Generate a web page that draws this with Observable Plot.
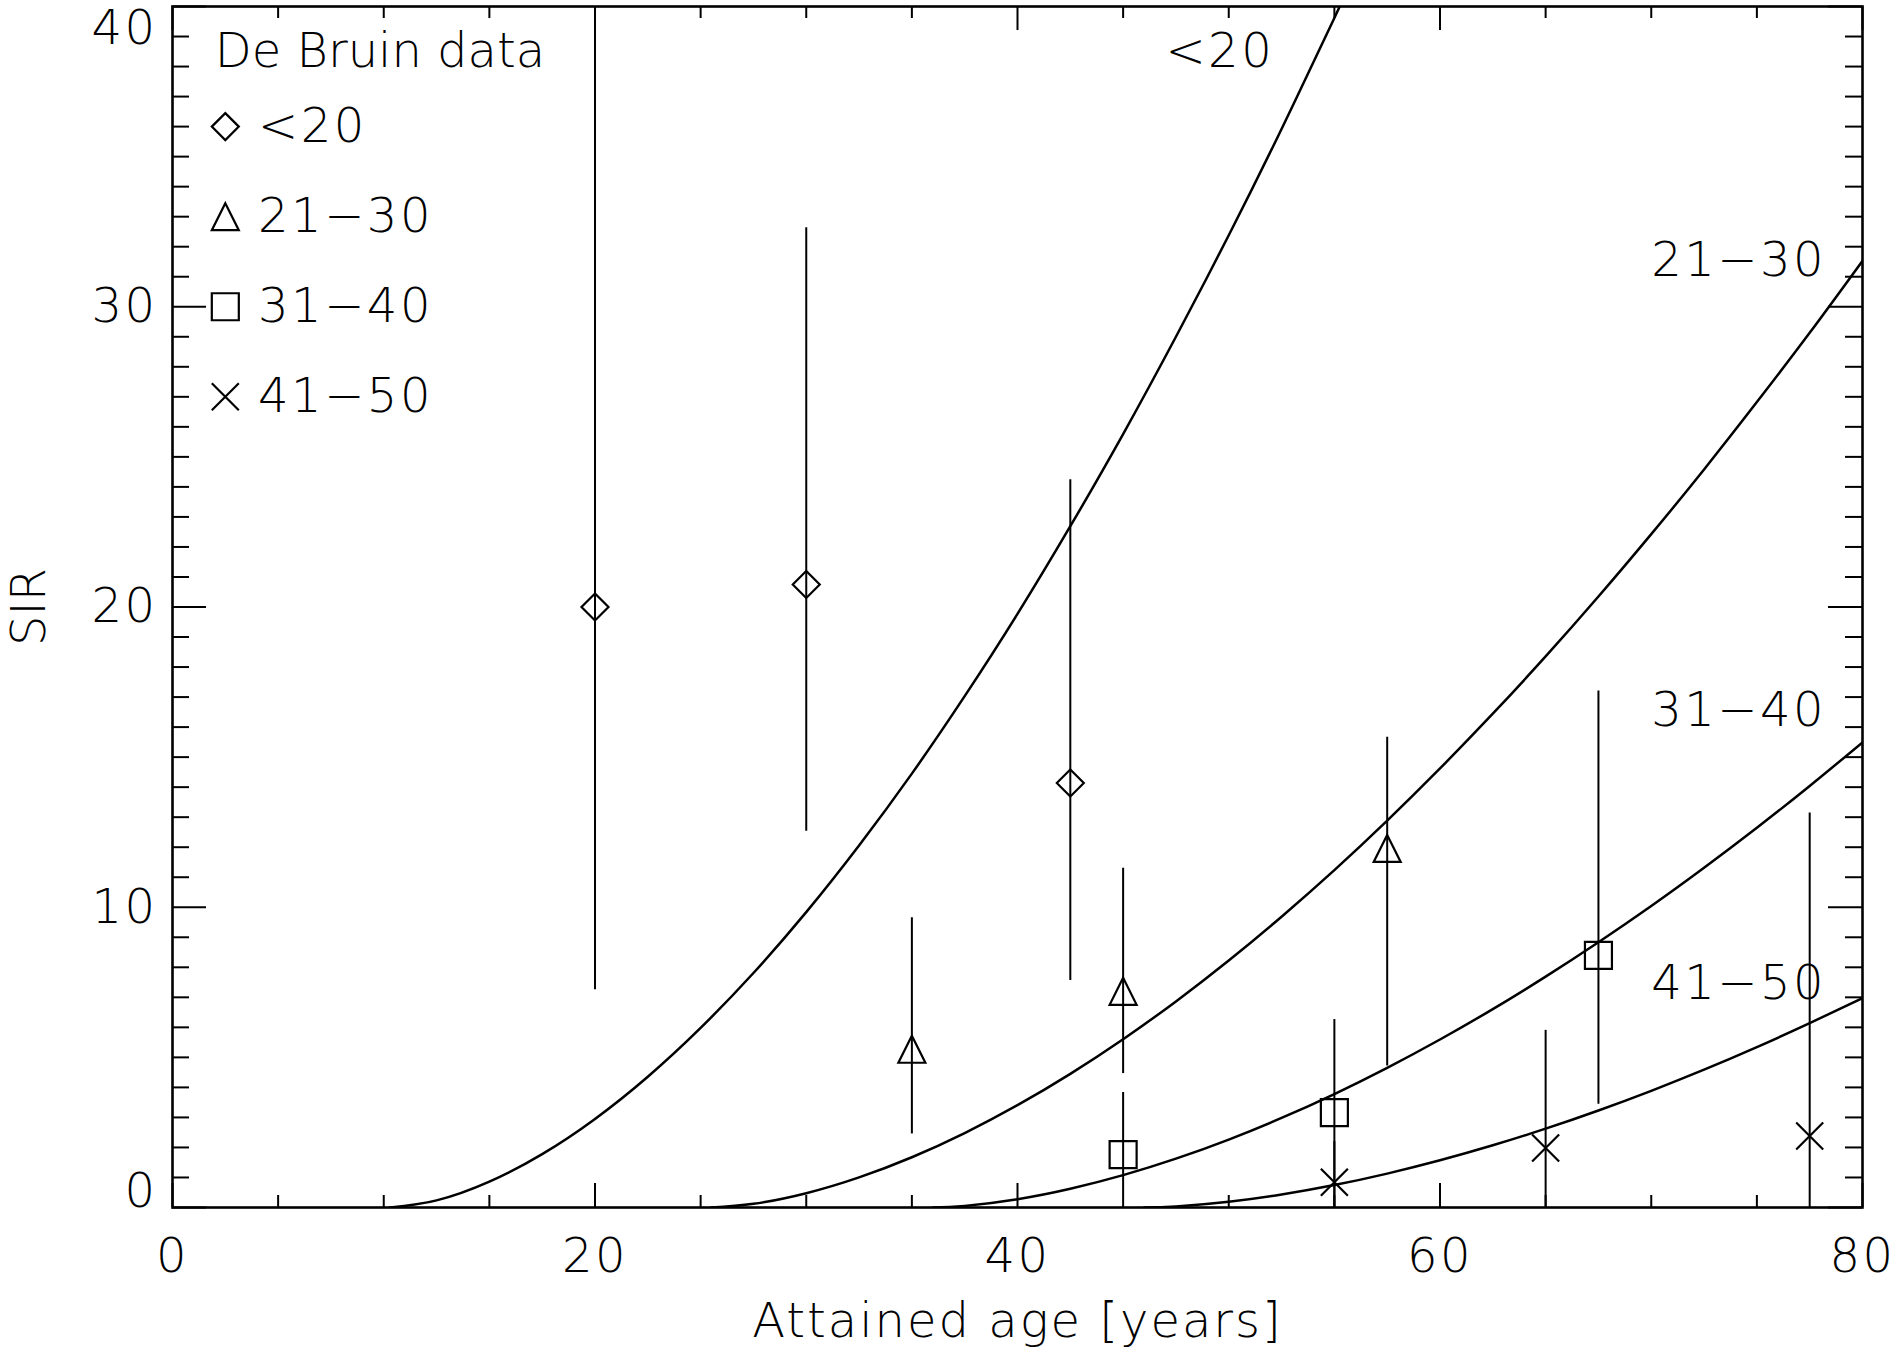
<!DOCTYPE html>
<html>
<head>
<meta charset="utf-8">
<script src="https://cdn.jsdelivr.net/npm/d3@7"></script>
<script src="https://cdn.jsdelivr.net/npm/@observablehq/plot@0.6"></script>
<style>
  html, body { margin: 0; padding: 0; background: #fff; }
  #chart svg { display: block; }
</style>
</head>
<body>
<div id="chart"></div>
<script>
// ---------------- data ----------------
const groups = ["<20", "21−30", "31−40", "41−50"];

// model curves
const curveAge_lt20 = [10.3, 12.5, 15, 17.5, 20, 22.5, 25, 27.5, 30, 32.5, 35, 37.5, 40, 42.5, 45, 47.5, 50, 52.5, 55, 56];
const curveSIR_lt20 = [0, 0.237, 0.861, 1.778, 2.951, 4.357, 5.982, 7.811, 9.838, 12.057, 14.45, 17.03, 19.77, 22.69, 25.76, 29.00, 32.38, 35.92, 39.62, 41.14];

const curveAge_21_30 = [25.5, 27.5, 30, 32.5, 35, 37.5, 40, 42.5, 45, 47.5, 50, 52.5, 55, 57.5, 60, 62.5, 65, 67.5, 70, 72.5, 75, 77.5, 80];
const curveSIR_21_30 = [0, 0.122, 0.477, 1.003, 1.674, 2.479, 3.407, 4.452, 5.605, 6.864, 8.226, 9.686, 11.236, 12.884, 14.623, 16.446, 18.353, 20.348, 22.426, 24.581, 26.824, 29.131, 31.527];

const curveAge_31_40 = [36, 37.5, 40, 42.5, 45, 47.5, 50, 52.5, 55, 57.5, 60, 62.5, 65, 67.5, 70, 72.5, 75, 77.5, 80];
const curveSIR_31_40 = [0, 0.053, 0.276, 0.623, 1.077, 1.626, 2.263, 2.982, 3.779, 4.652, 5.595, 6.608, 7.690, 8.837, 10.043, 11.316, 12.648, 14.040, 15.490];

const curveAge_41_50 = [46, 47.5, 50, 52.5, 55, 57.5, 60, 62.5, 65, 67.5, 70, 72.5, 75, 77.5, 80];
const curveSIR_41_50 = [0, 0.037, 0.192, 0.433, 0.748, 1.129, 1.572, 2.071, 2.625, 3.232, 3.887, 4.590, 5.342, 6.139, 6.977];

// De Bruin data points with error bars
const ptAge_lt20 = [20, 30, 42.5];
const ptSIR_lt20 = [20.0, 20.75, 14.14];
const ptLo_lt20  = [7.25, 12.53, 7.56];
const ptHi_lt20  = [41, 32.63, 24.24];

const ptAge_21_30 = [35, 45, 57.5];
const ptSIR_21_30 = [5.27, 7.2, 11.96];
const ptLo_21_30  = [2.45, 4.46, 4.71];
const ptHi_21_30  = [9.65, 11.3, 15.66];

const ptAge_31_40 = [45, 55, 67.5];
const ptSIR_31_40 = [1.76, 3.16, 8.4];
const ptLo_31_40  = [0.4, 0, 3.44];
const ptHi_31_40  = [3.83, 6.26, 17.2];

const ptAge_41_50 = [55, 65, 77.5];
const ptSIR_41_50 = [0.84, 1.98, 2.38];
const ptLo_41_50  = [0, 0, 0];
const ptHi_41_50  = [2.2, 5.9, 13.14];

const xTickLabels = [0, 20, 40, 60, 80];
const yTickLabels = [0, 10, 20, 30, 40];

const legendTitle = "De Bruin data";
const xLabel = "Attained age [years]";
const yLabel = "SIR";

// ---------------- build rows ----------------
const curveSets = [
  [curveAge_lt20, curveSIR_lt20],
  [curveAge_21_30, curveSIR_21_30],
  [curveAge_31_40, curveSIR_31_40],
  [curveAge_41_50, curveSIR_41_50]
];
const curveRows = curveSets.flatMap(([a, s], gi) => a.map((age, i) => ({group: groups[gi], age, sir: s[i]})));

const pointSets = [
  [ptAge_lt20, ptSIR_lt20, ptLo_lt20, ptHi_lt20],
  [ptAge_21_30, ptSIR_21_30, ptLo_21_30, ptHi_21_30],
  [ptAge_31_40, ptSIR_31_40, ptLo_31_40, ptHi_31_40],
  [ptAge_41_50, ptSIR_41_50, ptLo_41_50, ptHi_41_50]
];
const pointRows = pointSets.flatMap(([a, s, lo, hi], gi) => a.map((age, i) => ({group: groups[gi], gi, age, sir: s[i], lo: lo[i], hi: hi[i]})));

// ---------------- custom IDL-like symbols ----------------
const hOf = size => Math.sqrt(size / Math.PI);
const symDiamond = {draw(c, size) { const h = hOf(size); c.moveTo(0, -h); c.lineTo(h, 0); c.lineTo(0, h); c.lineTo(-h, 0); c.closePath(); }};
const symTriangle = {draw(c, size) { const h = hOf(size); c.moveTo(0, -h); c.lineTo(h, h); c.lineTo(-h, h); c.closePath(); }};
const symSquare = {draw(c, size) { const h = hOf(size); c.moveTo(-h, -h); c.lineTo(h, -h); c.lineTo(h, h); c.lineTo(-h, h); c.closePath(); }};
const symTimes = {draw(c, size) { const h = hOf(size); c.moveTo(-h, -h); c.lineTo(h, h); c.moveTo(h, -h); c.lineTo(-h, h); }};
const groupSymbols = [symDiamond, symTriangle, symSquare, symTimes];

// ---------------- layout ----------------
const W = 1896, H = 1352;
const mL = 172, mR = 34, mT = 6, mB = 145;
const pw = W - mL - mR, ph = H - mT - mB;
const FONT = "'DejaVu Sans', sans-serif";
const FS = 48;

const xMajor = d3.range(0, 81, 20), xMinor = d3.range(0, 81, 5).filter(v => v % 20);
const yMajor = d3.range(0, 41, 10), yMinor = d3.range(0, 41, 1).filter(v => v % 10);

const ink = "#000";
const lw = 2.5;

// legend layout (in data space of the panel)
const legendRows = groups.map((g, i) => ({g, i}));
const legendTop = 36, legendStep = 3, legendSymX = 2.5, legendTextX = 4.05;

const ylx = -15;

const marks = [
  // ticks (inward, mirrored on all four sides)
  Plot.ruleX(xMajor, {x: d => d, insetTop: ph - 24, stroke: ink, strokeWidth: 2}),
  Plot.ruleX(xMajor, {x: d => d, insetBottom: ph - 24, stroke: ink, strokeWidth: 2}),
  Plot.ruleX(xMinor, {x: d => d, insetTop: ph - 12, stroke: ink, strokeWidth: 2}),
  Plot.ruleX(xMinor, {x: d => d, insetBottom: ph - 12, stroke: ink, strokeWidth: 2}),
  Plot.ruleY(yMajor, {y: d => d, insetRight: pw - 34, stroke: ink, strokeWidth: 2}),
  Plot.ruleY(yMajor, {y: d => d, insetLeft: pw - 34, stroke: ink, strokeWidth: 2}),
  Plot.ruleY(yMinor, {y: d => d, insetRight: pw - 17, stroke: ink, strokeWidth: 2}),
  Plot.ruleY(yMinor, {y: d => d, insetLeft: pw - 17, stroke: ink, strokeWidth: 2}),

  // tick labels
  Plot.text(xTickLabels, {x: d => d, frameAnchor: "bottom", dy: 49, text: d => String(d), textAnchor: "middle", lineAnchor: "middle", fontSize: FS}),
  Plot.text(yTickLabels.filter(v => v > 0 && v < 40), {y: d => d, frameAnchor: "left", dx: ylx, text: d => String(d), textAnchor: "end", lineAnchor: "middle", fontSize: FS}),
  Plot.text(yTickLabels.filter(v => v === 0), {y: d => d, frameAnchor: "left", dx: ylx, dy: -16, text: d => String(d), textAnchor: "end", lineAnchor: "middle", fontSize: FS}),
  Plot.text(yTickLabels.filter(v => v === 40), {y: d => d, frameAnchor: "left", dx: ylx, dy: 22, text: d => String(d), textAnchor: "end", lineAnchor: "middle", fontSize: FS}),

  // axis titles
  Plot.text([xLabel], {frameAnchor: "bottom", dy: 114, text: d => d, textAnchor: "middle", lineAnchor: "middle", fontSize: FS}),
  Plot.text([yLabel], {frameAnchor: "left", dx: -143, rotate: -90, text: d => d, textAnchor: "middle", lineAnchor: "middle", fontSize: FS}),

  // model curves
  Plot.line(curveRows, {x: "age", y: "sir", z: "group", curve: "natural", stroke: ink, strokeWidth: lw, clip: true}),

  // error bars
  Plot.ruleX(pointRows, {x: "age", y1: "lo", y2: "hi", stroke: ink, strokeWidth: 2, clip: true}),

  // data symbols
  ...groups.map((g, gi) => Plot.dot(pointRows.filter(d => d.gi === gi), {x: "age", y: "sir", symbol: groupSymbols[gi], r: 13.5, stroke: ink, fill: "none", strokeWidth: 2.2})),

  // curve labels
  Plot.text([groups[0]], {x: 47.0, y: 38.5, text: d => d, textAnchor: "start", lineAnchor: "middle", fontSize: FS}),
  Plot.text(groups.slice(1), {x: 70.0, y: (d, i) => [31.55, 16.54, 7.46][i], text: d => d, textAnchor: "start", lineAnchor: "middle", fontSize: FS}),

  // legend
  Plot.text([legendTitle], {x: 2.0, y: 38.5, text: d => d, textAnchor: "start", lineAnchor: "middle", fontSize: FS}),
  ...legendRows.map(({g, i}) => Plot.dot([g], {x: legendSymX, y: legendTop - legendStep * i, symbol: groupSymbols[i], r: 13.5, stroke: ink, fill: "none", strokeWidth: 2.2})),
  Plot.text(legendRows, {x: legendTextX, y: d => legendTop - legendStep * d.i, text: d => d.g, textAnchor: "start", lineAnchor: "middle", fontSize: FS}),

  Plot.frame({stroke: ink, strokeWidth: 2.6})
];

const chart = Plot.plot({
  width: W,
  height: H,
  marginLeft: mL,
  marginRight: mR,
  marginTop: mT,
  marginBottom: mB,
  x: {domain: [0, 80], axis: null},
  y: {domain: [0, 40], axis: null},
  style: {fontFamily: FONT, fontSize: FS + "px", fontWeight: 200, background: "#fff", color: ink},
  marks
});

// the vector (Hershey) font of the original is a little wider: open up numeric labels
d3.select(chart).selectAll("text").each(function () {
  const t = this.textContent;
  if (t !== legendTitle && t !== yLabel) this.style.letterSpacing = t === xLabel ? "2px" : "2.5px";
});

document.getElementById("chart").appendChild(chart);
</script>
</body>
</html>
